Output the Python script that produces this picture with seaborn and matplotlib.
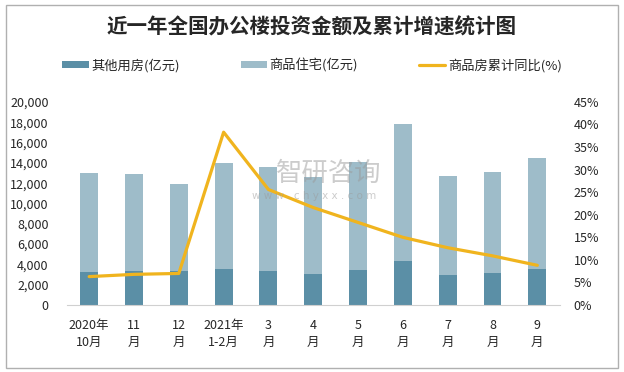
import numpy as np
import pandas as pd
import matplotlib
matplotlib.use("Agg")
import matplotlib.pyplot as plt
import seaborn as sns
from matplotlib.patches import Rectangle, Patch
from matplotlib.lines import Line2D
from matplotlib.ticker import FuncFormatter

# 数据
months = ["2020年\n10月", "11\n月", "12\n月", "2021年\n1-2月", "3\n月", "4\n月",
          "5\n月", "6\n月", "7\n月", "8\n月", "9\n月"]
other = [3250, 3350, 3350, 3550, 3350, 3050, 3450, 4330, 2960, 3150, 3550]
residential = [9750, 9550, 8570, 10440, 10250, 9550, 10640, 13500, 9750, 9950, 10930]
growth = [6.3, 6.8, 7.0, 38.3, 25.6, 21.6, 18.3, 15.0, 12.7, 10.9, 8.8]

dark = "#5B8FA6"
light = "#9EBCC9"
gold = "#F0B41E"

sns.set_style("white")
plt.rcParams["font.family"] = ["Noto Sans CJK SC", "DejaVu Sans"]

df = pd.DataFrame({"月份": months, "其他": other, "住宅": residential, "同比": growth})
df["合计"] = df["其他"] + df["住宅"]

fig = plt.figure(figsize=(6.24, 3.72), dpi=100)
ax = fig.add_axes([0.107, 0.18, 0.79, 0.546])

# 堆叠柱：先画合计（浅色），再画其他用房（深色）
sns.barplot(data=df, x="月份", y="合计", color=light, width=0.4, ax=ax,
            saturation=1, edgecolor="none")
sns.barplot(data=df, x="月份", y="其他", color=dark, width=0.4, ax=ax,
            saturation=1, edgecolor="none")

ax.set_ylim(0, 20000)
ax.set_yticks(np.arange(0, 20001, 2000))
ax.yaxis.set_major_formatter(FuncFormatter(lambda v, p: f"{int(v):,}"))
ax.set_xlim(-0.5, len(months) - 0.5)
ax.set_xlabel("")
ax.set_ylabel("")
for s in ["top", "right", "left"]:
    ax.spines[s].set_visible(False)
ax.spines["bottom"].set_color("#d0d0d0")
ax.tick_params(axis="y", length=0, labelsize=9, pad=13)
ax.tick_params(axis="x", length=0, labelsize=9, pad=10)
for t in ax.get_xticklabels():
    t.set_linespacing(1.45)

ax2 = ax.twinx()
sns.lineplot(x=np.arange(len(months)), y=df["同比"], ax=ax2, color=gold,
             linewidth=2.3)
ax2.set_ylim(0, 45)
ax2.set_yticks(np.arange(0, 46, 5))
ax2.yaxis.set_major_formatter(FuncFormatter(lambda v, p: f"{int(v)}%"))
ax2.set_ylabel("")
for s in ["top", "right", "left", "bottom"]:
    ax2.spines[s].set_visible(False)
ax2.tick_params(axis="y", length=0, labelsize=9, pad=10)

# 水印
fig.text(0.527, 0.535, "智研咨询", fontsize=19, color="#9a9a9a", alpha=0.5,
         ha="center", va="center")
fig.text(0.503, 0.472, "w w w . c h y x x . c o m", fontsize=7.5, color="#9a9a9a",
         alpha=0.5, ha="center", va="center", family="DejaVu Sans")

# 标题
fig.text(0.5, 0.927, "近一年全国办公楼投资金额及累计增速统计图", fontsize=14.8,
         fontweight="bold", ha="center", va="center")

# 图例
handles = [Patch(facecolor=dark, edgecolor="none"),
           Patch(facecolor=light, edgecolor="none"),
           Line2D([0], [0], color=gold, linewidth=2.3)]
labels = ["其他用房(亿元)", "商品住宅(亿元)", "商品房累计同比(%)"]
fig.legend(handles, labels, loc="center", bbox_to_anchor=(0.5, 0.825), ncol=3,
           frameon=False, fontsize=9.5, handlelength=2.0, handleheight=0.5,
           columnspacing=4.6, handletextpad=0.2)

# 外框
fig.patches.append(Rectangle((0.0096, 0.011), 0.981, 0.976, transform=fig.transFigure,
                             fill=False, edgecolor="#b0b0b0", linewidth=1))

fig.savefig("out.png", dpi=100)
